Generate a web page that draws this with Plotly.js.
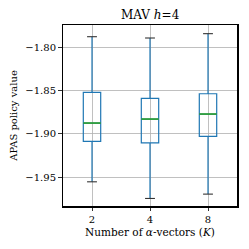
<!DOCTYPE html>
<html><head><meta charset="utf-8">
<script src="https://cdn.plot.ly/plotly-3.0.1.min.js"></script>
<style>body{margin:0;padding:0;background:#fff}</style>
</head><body>
<div id="chart" style="width:249px;height:249px"></div>
<script>
const categories = ["2", "4", "8"];
const q1 = [-1.9085, -1.9102, -1.9028];
const median = [-1.8874, -1.8828, -1.8770];
const q3 = [-1.8520, -1.8589, -1.8536];
const lowerWhisker = [-1.9552, -1.9744, -1.9694];
const upperWhisker = [-1.7878, -1.7893, -1.7843];

const pos = categories.map((c, i) => i);
const boxHalf = 0.15, capHalf = 0.085;
const traces = [];
traces.push({
  type: 'box', x: pos, q1: q1, median: median, q3: q3,
  lowerfence: lowerWhisker, upperfence: upperWhisker,
  width: 2 * boxHalf, whiskerwidth: 0,
  fillcolor: 'rgba(0,0,0,0)',
  line: {color: '#1f77b4', width: 1.2},
  hoverinfo: 'skip', showlegend: false
});
const mx = [], my = [], cx = [], cy = [];
pos.forEach((p, i) => {
  mx.push(p - boxHalf, p + boxHalf, null); my.push(median[i], median[i], null);
  cx.push(p - capHalf, p + capHalf, null); cy.push(lowerWhisker[i], lowerWhisker[i], null);
  cx.push(p - capHalf, p + capHalf, null); cy.push(upperWhisker[i], upperWhisker[i], null);
});
traces.push({type: 'scatter', mode: 'lines', x: mx, y: my, line: {color: '#2ca02c', width: 1.6}, showlegend: false, hoverinfo: 'skip'});
traces.push({type: 'scatter', mode: 'lines', x: cx, y: cy, line: {color: '#333333', width: 1.1}, showlegend: false, hoverinfo: 'skip'});

const font = {family: 'DejaVu Serif', size: 10, color: '#000'};
const titleFont = {family: 'DejaVu Serif', size: 10.5, color: '#000'};
const layout = {
  width: 249, height: 249,
  margin: {l: 63, r: 12, t: 25, b: 43},
  paper_bgcolor: '#fff', plot_bgcolor: '#fff',
  font: font,
  title: {text: 'MAV <i>h</i>=4', font: {family: 'DejaVu Serif', size: 12, color: '#000'}, x: 0.603, xanchor: 'center', y: 0.94, yanchor: 'middle'},
  xaxis: {
    range: [-0.5, 2.5], tickmode: 'array', tickvals: pos, ticktext: categories,
    showgrid: true, gridcolor: '#b0b0b0', gridwidth: 0.8, zeroline: false,
    showline: true, linecolor: '#000', linewidth: 1.5, mirror: true,
    ticks: 'outside', ticklen: 3.5, tickcolor: '#000', tickwidth: 0.8,
    tickfont: font,
    title: {text: 'Number of <i>α</i>-vectors (<i>K</i>)', font: titleFont, standoff: 4}
  },
  yaxis: {
    range: [-1.9831, -1.7743], tickvals: [-1.80, -1.85, -1.90, -1.95],
    ticktext: ['−1.80', '−1.85', '−1.90', '−1.95'], tickmode: 'array',
    showgrid: true, gridcolor: '#b0b0b0', gridwidth: 0.8, zeroline: false,
    showline: true, linecolor: '#000', linewidth: 1.5, mirror: true,
    ticks: 'outside', ticklen: 3.5, tickcolor: '#000', tickwidth: 0.8,
    tickfont: font,
    title: {text: 'APAS policy value', font: font, standoff: 6}
  }
};
Plotly.newPlot('chart', traces, layout, {displayModeBar: false, staticPlot: true});
</script>
</body></html>
